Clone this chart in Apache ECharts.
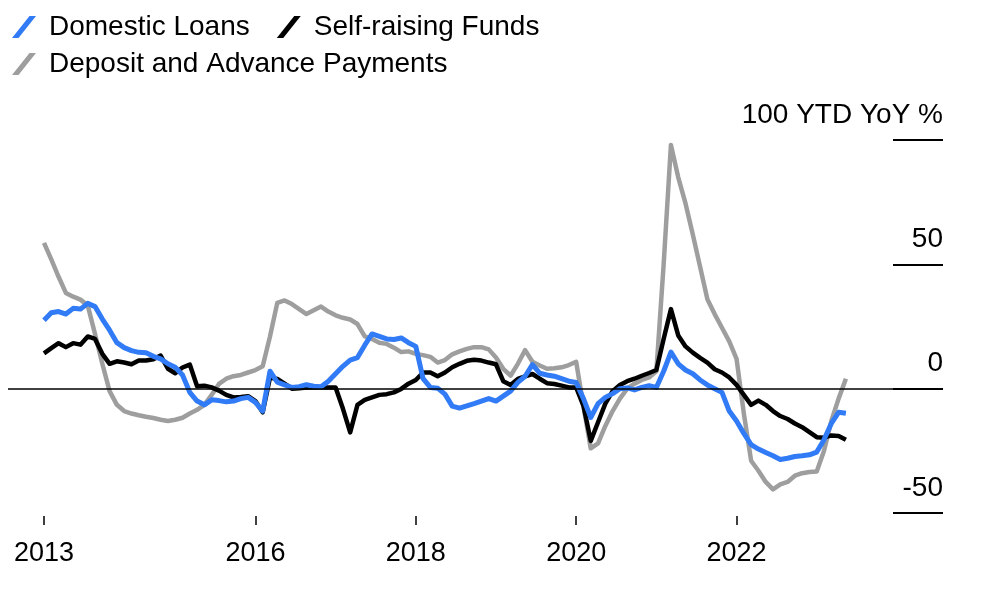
<!DOCTYPE html>
<html><head><meta charset="utf-8">
<script src="https://cdn.jsdelivr.net/npm/echarts@6/dist/echarts.min.js"></script>
<style>html,body{margin:0;padding:0;background:#fff}#c{width:982px;height:596px}</style>
</head><body><div id="c"></div>
<script>
// x tick positions (point index) and their labels
const tickIndex = [0, 29, 51, 73, 95];
const tickLabels = ['2013', '2016', '2018', '2020', '2022'];

// YTD YoY %, one value per release
const domesticLoans = [
 27.5, 30.5, 31, 30, 32.3, 32, 34.3, 33, 28, 23.5,
 18.5, 16.5, 15.3, 14.6, 14.4, 13, 12, 10, 8.6, 5.5,
 -1.5, -5, -6.5, -4.5, -4.8, -5.3, -5, -4, -3.5, -5.5,
 -9, 7, 2.6, 1.5, 0.5, 0.8, 1.6, 1, 0.8, 3,
 6, 9, 11.5, 12.5, 17.5, 22, 21, 20, 19.8, 20.4,
 18.5, 17, 4, 0.5, 0.2, -2.2, -7, -7.8, -6.9, -6,
 -5, -4, -5, -3, -1, 2.5, 5, 9.7, 6.2, 5.5,
 5, 4, 3, 2.5, -4, -11.6, -6, -3.5, -2, 0,
 0.3, -0.5, 0.5, 1.2, 0.5, 7, 14.7, 10, 7.5, 6,
 3.5, 1.5, 0, -1.5, -9, -13, -18, -22.5, -24.3, -25.7,
 -27, -28.5, -28, -27.3, -27, -26.6, -25.5, -20.5, -14, -9.5,
 -9.9
];
const selfRaisingFunds = [
 14.2, 16.3, 18.3, 16.7, 18.3, 17.7, 21, 20, 14, 10,
 11, 10.5, 9.8, 11.3, 11.3, 11.8, 13.3, 8, 6.2, 8.5,
 9.7, 1, 1.2, 0.5, -0.8, -2.5, -3.5, -3.3, -3, -5,
 -9.5, 4.5, 3.9, 2, 0, 0.2, 0.5, 0.5, 0.5, 0.5,
 0.5, -8, -17.6, -6.5, -4.5, -3.5, -2.5, -2.2, -1.5, -0.1,
 2, 3.5, 6.5, 6.5, 5, 6.5, 8.6, 10, 11.2, 11.6,
 11.3, 10.5, 9.8, 3, 1.5, 3.9, 5, 5.9, 4, 2.2,
 1.9, 1.2, 0.5, 0.5, -6.9, -21, -13.5, -6, -1, 1.5,
 3, 4, 5.2, 6.3, 7.5, 20, 32, 21.4, 17, 14.5,
 12.4, 10.5, 7.8, 6.5, 4.5, 1.5, -2.5, -6.5, -4.8, -6.5,
 -9, -11, -12.2, -14, -15.5, -17.5, -19.5, -19.7, -18.8, -19,
 -20.5
];
const depositAdvance = [
 58.6, 52, 45, 38.5, 37, 35.8, 33.5, 22, 10, -1,
 -6.5, -9, -10, -10.7, -11.3, -11.8, -12.5, -13, -12.5, -11.7,
 -10, -8.5, -6.5, -2.5, 1.9, 4, 5, 5.5, 6.5, 7.5,
 9, 21, 34.5, 35.5, 34, 32, 30, 31.5, 33, 31,
 29.5, 28.5, 27.8, 26, 21, 20, 18.5, 18, 16.5, 14.7,
 15, 14, 13.5, 12.8, 10.5, 11.5, 13.8, 15, 16, 16.7,
 16.7, 15.8, 12.5, 8, 5.2, 10, 15.5, 10.8, 9.3, 8,
 8.2, 8.6, 9.5, 10.8, -7, -24, -22, -15, -9, -4,
 0, 2, 3.5, 4.5, 7, 50, 98, 85, 74.5, 62,
 49, 36, 30, 24.5, 19, 12, -10, -29, -33, -37.5,
 -40.5, -38.5, -37.5, -35, -34, -33.5, -33.3, -25, -13, -4,
 4
];

const pairs = a => a.map((v, i) => [i, v]);
const FONT = '"Liberation Sans", Arial, Helvetica, sans-serif';
const ICON = 'path://M0,22L6.5,22L24,0L17.5,0Z';
const legendText = {fontSize: 28, color: '#000', fontFamily: FONT, padding: [0, 0, 0, 8]};

const chart = echarts.init(document.getElementById('c'), null, {renderer: 'canvas'});
chart.setOption({
  animation: false,
  textStyle: {fontFamily: FONT},
  legend: [
    {left: 7, top: 8, itemWidth: 24, itemHeight: 22, itemGap: 27, icon: ICON,
     selectedMode: false, data: ['Domestic Loans', 'Self-raising Funds'], textStyle: legendText},
    {left: 7, top: 45, itemWidth: 24, itemHeight: 22, itemGap: 27, icon: ICON,
     selectedMode: false, data: ['Deposit and Advance Payments'], textStyle: legendText}
  ],
  grid: [
    {left: 8, right: 39, top: 140, bottom: 83, containLabel: false},
    {left: 893, right: 39, top: 140, bottom: 83, containLabel: false}
  ],
  xAxis: [{
    type: 'value', min: -4.938, max: 123.32, offset: 3,
    axisLine: {show: false, onZero: false}, splitLine: {show: false},
    axisTick: {show: true, customValues: tickIndex, length: 9, lineStyle: {color: '#000', width: 1.5}},
    axisLabel: {customValues: tickIndex, formatter: v => tickLabels[tickIndex.indexOf(v)],
                fontSize: 27, color: '#000', fontFamily: FONT, margin: 24}
  }, {
    gridIndex: 1, type: 'value', min: 0, max: 1, show: false
  }],
  yAxis: [{
    type: 'value', position: 'right', min: -50, max: 100, interval: 50,
    axisLine: {show: false}, splitLine: {show: false}, axisTick: {show: false},
    axisLabel: {inside: true, margin: 0, fontSize: 28, color: '#000', fontFamily: FONT,
                verticalAlign: 'bottom', align: 'right', padding: [0, 0, 11, 0],
                formatter: v => v === 100 ? '100 YTD YoY %' : String(v)}
  }, {
    gridIndex: 1, type: 'value', min: -50, max: 100, interval: 50,
    axisLine: {show: false}, axisTick: {show: false}, axisLabel: {show: false},
    splitLine: {show: true, lineStyle: {color: '#000', width: 2}}
  }],
  series: [
    {name: 'Deposit and Advance Payments', type: 'line', data: pairs(depositAdvance),
     showSymbol: false, color: '#9e9e9e', z: 2,
     lineStyle: {width: 4.5, color: '#9e9e9e', join: 'round'},
     itemStyle: {color: '#9e9e9e'}, emphasis: {disabled: true},
     markLine: {silent: true, symbol: ['none', 'none'], label: {show: false},
                lineStyle: {color: '#000', width: 1.5, type: 'solid'}, data: [{yAxis: 0}]}},
    {name: 'Self-raising Funds', type: 'line', data: pairs(selfRaisingFunds),
     showSymbol: false, color: '#000', z: 3,
     lineStyle: {width: 4.5, color: '#000', join: 'round'},
     itemStyle: {color: '#000'}, emphasis: {disabled: true}},
    {name: 'Domestic Loans', type: 'line', data: pairs(domesticLoans),
     showSymbol: false, color: '#317bf6', z: 4,
     lineStyle: {width: 5, color: '#317bf6', join: 'round'},
     itemStyle: {color: '#317bf6'}, emphasis: {disabled: true}}
  ]
});
</script></body></html>
